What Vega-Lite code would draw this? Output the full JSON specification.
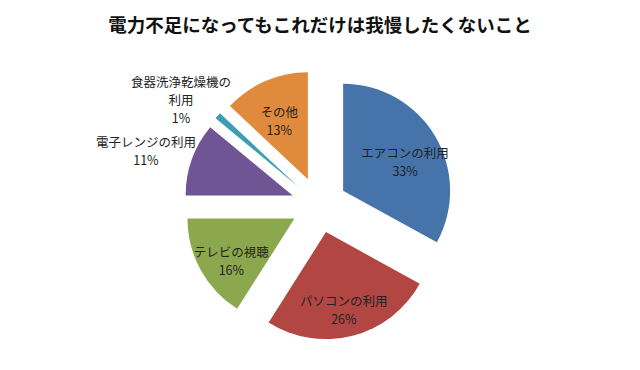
{
  "$schema": "https://vega.github.io/schema/vega-lite/v6.json",
  "width": 640,
  "height": 330,
  "autosize": "none",
  "padding": {"top": 40, "left": 0, "right": 0, "bottom": 0},
  "background": "white",
  "title": {
    "text": "電力不足になってもこれだけは我慢したくないこと",
    "fontSize": 18.5,
    "font": "Noto Sans CJK JP",
    "fontWeight": "bold",
    "color": "#111111",
    "anchor": "middle",
    "offset": 5
  },
  "config": {"view": {"stroke": null}},
  "data": {
    "values": [
      {"category": "エアコンの利用", "value": 33},
      {"category": "パソコンの利用", "value": 26},
      {"category": "テレビの視聴", "value": 16},
      {"category": "電子レンジの利用", "value": 11},
      {"category": "食器洗浄乾燥機の利用", "value": 1},
      {"category": "その他", "value": 13}
    ]
  },
  "transform": [
    {"window": [{"op": "sum", "field": "value", "as": "cum"}], "frame": [null, 0]},
    {"calculate": "datum.cum - datum.value", "as": "start"},
    {"calculate": "(datum.cum - datum.value / 2) * PI / 50", "as": "mid"},
    {"calculate": "28 * sin(datum.mid)", "as": "dx"},
    {"calculate": "-28 * cos(datum.mid)", "as": "dy"},
    {"calculate": "datum.value < 12 ? 156 : 72", "as": "lr"},
    {"calculate": "datum.dx + datum.lr * sin(datum.mid)", "as": "lx"},
    {"calculate": "datum.dy - datum.lr * cos(datum.mid)", "as": "ly"},
    {"calculate": "replace(datum.category, '機の利用', '機の\\n利用') + '\\n' + datum.value + '%'", "as": "label"}
  ],
  "layer": [
    {
      "mark": {"type": "arc", "outerRadius": 107},
      "encoding": {
        "x": {"field": "dx", "type": "quantitative", "scale": {"domain": [-319, 321], "range": [0, 640]}, "axis": null},
        "y": {"field": "dy", "type": "quantitative", "scale": {"domain": [-165, 165], "range": [0, 330]}, "axis": null},
        "theta": {"field": "start", "type": "quantitative", "scale": {"domain": [0, 100], "range": [0, 6.283185307179586]}},
        "theta2": {"field": "cum"},
        "color": {
          "field": "category",
          "type": "nominal",
          "legend": null,
          "scale": {
            "domain": ["エアコンの利用", "パソコンの利用", "テレビの視聴", "電子レンジの利用", "食器洗浄乾燥機の利用", "その他"],
            "range": ["#4674AA", "#B24642", "#8CA84F", "#705595", "#3E9DB3", "#DF8A3C"]
          }
        }
      }
    },
    {
      "mark": {"type": "text", "align": "center", "baseline": "middle", "lineBreak": "\n", "lineHeight": 18, "fontSize": 12.5, "font": "Noto Sans CJK JP", "color": "#222222"},
      "encoding": {
        "x": {"field": "lx", "type": "quantitative", "scale": {"domain": [-319, 321], "range": [0, 640]}, "axis": null},
        "y": {"field": "ly", "type": "quantitative", "scale": {"domain": [-165, 165], "range": [0, 330]}, "axis": null},
        "text": {"field": "label"}
      }
    }
  ]
}
